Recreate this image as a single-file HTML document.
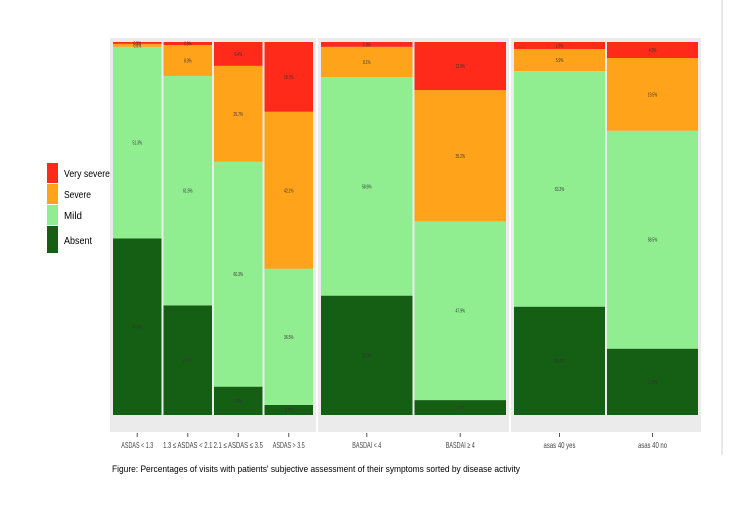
<!DOCTYPE html>
<html><head><meta charset="utf-8"><style>
body{margin:0;background:#fff;font-family:"Liberation Sans",sans-serif}
svg text{font-family:"Liberation Sans",sans-serif}
</style></head><body>
<svg id="c" width="731" height="502">
<line x1="722" y1="0" x2="722" y2="455" stroke="#d0d0d0"/>
<g id="bg"></g><g id="bars"></g><g id="axis"></g>
<g>
<rect x="47" y="163" width="11" height="20" fill="#ff2a1a"/>
<text x="64" y="177" font-size="10" textLength="46" lengthAdjust="spacingAndGlyphs">Very severe</text>
<rect x="47" y="184" width="11" height="20" fill="#ffa31a"/>
<text x="64" y="198" font-size="10" textLength="27" lengthAdjust="spacingAndGlyphs">Severe</text>
<rect x="47" y="205" width="11" height="20" fill="#90ee90"/>
<text x="64" y="219" font-size="10" textLength="18" lengthAdjust="spacingAndGlyphs">Mild</text>
<rect x="47" y="226" width="11" height="27" fill="#145f14"/>
<text x="64" y="244" font-size="10" textLength="28" lengthAdjust="spacingAndGlyphs">Absent</text>
</g>
<text x="112" y="472" font-size="9.5" textLength="408" lengthAdjust="spacingAndGlyphs">Figure: Percentages of visits with patients' subjective assessment of their symptoms sorted by disease activity</text>
</svg>
<script>
const categories=["ASDAS < 1.3","1.3 ≤ ASDAS < 2.1","2.1 ≤ ASDAS ≤ 3.5","ASDAS > 3.5","BASDAI < 4","BASDAI ≥ 4","asas 40 yes","asas 40 no"];
const absent=[47.3,29.4,7.6,2.7,32.0,4.0,29.1,17.8];
const mild=[51.3,61.5,60.3,36.5,58.6,47.9,63.3,58.5];
const severe=[0.8,8.3,25.7,42.1,8.1,35.2,5.9,19.5];
const verySevere=[0.5,0.8,6.4,18.7,1.3,12.9,1.9,4.3];
const panels=[[0,4],[4,6],[6,8]];
const NS="http://www.w3.org/2000/svg";
const panelX=[[110,318],[318,511],[511,703]];
const yTop=42,yBot=415;
function yScale(p){return yBot-(yBot-yTop)*p/100;}
const bg=document.getElementById('bg'),bars=document.getElementById('bars'),axis=document.getElementById('axis');
function mk(tag,attrs,parent){const e=document.createElementNS(NS,tag);for(const k in attrs)e.setAttribute(k,attrs[k]);parent.appendChild(e);return e;}
panels.forEach((p,pi)=>{
  const x0=panelX[pi][0],x1=panelX[pi][1];
  const r=mk('rect',{x:x0,y:38,width:x1-x0-2,height:394,fill:'#ebebeb'},bg);
  
  
  const n=p[1]-p[0];const w=(x1-x0-2-4)/n;
  for(let i=p[0];i<p[1];i++){
    const bx=x0+2+(i-p[0])*w;
    const segs=[[absent[i],'#145f14','absent'],[mild[i],'#90ee90','mild'],[severe[i],'#ffa31a','severe'],[verySevere[i],'#ff2a1a','very-severe']];
    const tot=segs.reduce((a,s)=>a+s[0],0);
    let cum=0;
    segs.forEach(s=>{
      const v=s[0]/tot*100;
      const y1=yScale(cum),y2=yScale(cum+v);
      const rc=mk('rect',{x:bx+1,y:y2,width:w-2,height:y1-y2,fill:s[1]},bars);
      
      
      const lbl=s[0].toFixed(1)+'%';
      const t=mk('text',{x:bx+w/2,y:(y1+y2)/2+2,'font-size':5,'text-anchor':'middle',fill:'#333',textLength:lbl.length*1.9,lengthAdjust:'spacingAndGlyphs'},bars);
      
      
      t.textContent=lbl;
      cum+=v;
    });
    const cx=bx+w/2;
    const tk=mk('line',{x1:cx,y1:433,x2:cx,y2:437,stroke:'#555'},axis);
    
    
    const lb=mk('text',{x:cx,y:448,'font-size':8.5,'text-anchor':'middle',fill:'#444',textLength:categories[i].length*2.9,lengthAdjust:'spacingAndGlyphs'},axis);
    
    
    lb.textContent=categories[i];
  }
});
</script>
</body></html>
